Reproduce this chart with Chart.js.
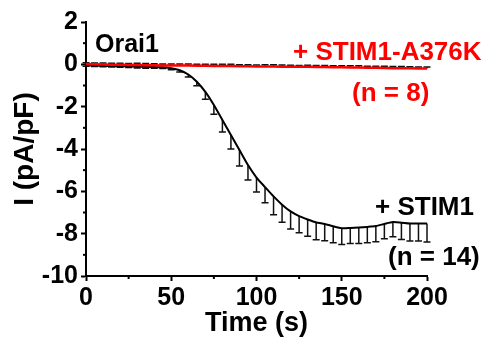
<!DOCTYPE html>
<html>
<head>
<meta charset="utf-8">
<script src="https://cdn.jsdelivr.net/npm/chart.js@4.4.0/dist/chart.umd.min.js"></script>
<style>
html, body { margin: 0; padding: 0; background: #fff; }
#wrap { width: 489px; height: 341px; position: relative; }
</style>
</head>
<body>
<div id="wrap"><canvas id="chart"></canvas></div>
<script>
/* ---- data ---- */
var TIME = [0,5,10,15,20,25,30,35,40,45,50,55,60,65,70,75,80,85,90,95,100,
            105,110,115,120,125,130,135,140,145,150,155,160,165,170,175,180,185,190,195,200];

var STIM1_MEAN = [-0.05,-0.06,-0.07,-0.08,-0.09,-0.10,-0.11,-0.12,-0.13,-0.14,
                  -0.18,-0.28,-0.48,-0.82,-1.30,-1.92,-2.63,-3.34,-4.05,-4.76,-5.35,
                  -5.80,-6.24,-6.63,-6.95,-7.17,-7.33,-7.47,-7.54,-7.65,-7.74,
                  -7.73,-7.71,-7.68,-7.64,-7.54,-7.45,-7.48,-7.52,-7.52,-7.52];
var STIM1_SEM  = [0.04,0.04,0.05,0.05,0.05,0.05,0.06,0.06,0.06,0.06,
                  0.07,0.08,0.12,0.19,0.35,0.44,0.57,0.66,0.75,0.71,0.68,
                  0.74,0.87,0.83,0.83,0.79,0.79,0.82,0.80,0.78,0.77,
                  0.73,0.75,0.75,0.74,0.70,0.70,0.79,0.83,0.83,0.87];

var A376K_MEAN = [0.01,0.00,-0.01,-0.02,-0.02,-0.03,-0.03,-0.04,-0.04,-0.05,
                  -0.05,-0.06,-0.06,-0.07,-0.07,-0.08,-0.08,-0.08,-0.09,-0.09,-0.10,
                  -0.10,-0.10,-0.11,-0.11,-0.12,-0.12,-0.13,-0.13,-0.14,-0.14,
                  -0.15,-0.15,-0.16,-0.16,-0.17,-0.18,-0.18,-0.19,-0.20,-0.20];
var A376K_SEM  = [0.06,0.06,0.07,0.07,0.07,0.07,0.08,0.08,0.07,0.07,
                  0.07,0.08,0.08,0.07,0.07,0.08,0.08,0.08,0.07,0.07,0.07,
                  0.08,0.08,0.08,0.07,0.07,0.08,0.08,0.08,0.07,0.07,
                  0.08,0.08,0.07,0.07,0.08,0.08,0.08,0.07,0.07,0.07];

var X_TICKS = [0, 50, 100, 150, 200];
var Y_TICKS = [2, 0, -2, -4, -6, -8, -10];
var X_MINOR = [25, 75, 125, 175];
var Y_MINOR = [1, -1, -3, -5, -7, -9];

var FONT = "'Liberation Sans', Arial, sans-serif";

function pts(xs, ys) {
    return xs.map(function(x, i) { return { x: x, y: ys[i] }; });
}

/* error bars: STIM1 downward, A376K upward, drawn under the lines */
var errorBars = {
    id: 'errorBars',
    beforeDatasetsDraw: function(chart) {
        var ctx = chart.ctx;
        var yS = chart.scales.y;
        ctx.save();
        ctx.strokeStyle = '#111';
        ctx.lineWidth = 1.5;
        chart.data.datasets.forEach(function(ds, di) {
            var meta = chart.getDatasetMeta(di);
            meta.data.forEach(function(p, i) {
                var v = ds.data[i].y + ds.errDir * ds.sem[i];
                var y1 = yS.getPixelForValue(v);
                ctx.beginPath();
                ctx.moveTo(p.x, p.y);
                ctx.lineTo(p.x, y1);
                ctx.moveTo(p.x - 3.5, y1);
                ctx.lineTo(p.x + 3.5, y1);
                ctx.stroke();
            });
        });
        ctx.restore();
    }
};

/* minor ticks + text labels */
var extras = {
    id: 'extras',
    afterDraw: function(chart) {
        var ctx = chart.ctx;
        var xS = chart.scales.x, yS = chart.scales.y;
        var a = chart.chartArea;
        ctx.save();
        ctx.strokeStyle = '#000';
        ctx.lineWidth = 2;
        X_MINOR.forEach(function(v) {
            var x = xS.getPixelForValue(v);
            ctx.beginPath(); ctx.moveTo(x, a.bottom); ctx.lineTo(x, a.bottom + 3); ctx.stroke();
        });
        Y_MINOR.forEach(function(v) {
            var y = yS.getPixelForValue(v);
            ctx.beginPath(); ctx.moveTo(a.left, y); ctx.lineTo(a.left - 3, y); ctx.stroke();
        });

        ctx.textBaseline = 'alphabetic';
        ctx.textAlign = 'left';
        ctx.fillStyle = '#000';
        ctx.font = 'bold 25px ' + FONT;
        ctx.fillText('Orai1', 95, 52);
        ctx.font = 'bold 26px ' + FONT;
        ctx.fillText('+ STIM1', 375, 215);
        ctx.fillText('(n = 14)', 388, 265);
        ctx.fillStyle = '#ff0000';
        ctx.fillText('+ STIM1-A376K', 293, 60);
        ctx.fillText('(n = 8)', 352, 101);
        ctx.restore();
    }
};

new Chart(document.getElementById('chart'), {
    type: 'line',
    data: {
        datasets: [
            {
                label: '+ STIM1-A376K',
                data: pts(TIME, A376K_MEAN),
                sem: A376K_SEM,
                errDir: 1,
                borderColor: '#ff0000',
                borderWidth: 2.5,
                pointRadius: 0,
                tension: 0
            },
            {
                label: '+ STIM1',
                data: pts(TIME, STIM1_MEAN),
                sem: STIM1_SEM,
                errDir: -1,
                borderColor: '#000000',
                borderWidth: 2,
                pointRadius: 0,
                tension: 0.2
            }
        ]
    },
    options: {
        responsive: true,
        maintainAspectRatio: false,
        animation: false,
        layout: { padding: { left: 0, top: 22, right: 62, bottom: 0 } },
        plugins: {
            legend: { display: false },
            tooltip: { enabled: false }
        },
        scales: {
            x: {
                type: 'linear',
                min: 0,
                max: 200,
                afterBuildTicks: function(s) { s.ticks = X_TICKS.map(function(v) { return { value: v }; }); },
                afterFit: function(s) { s.height = 65; },
                border: { display: true, color: '#000', width: 2 },
                grid: { drawOnChartArea: false, drawTicks: true, tickLength: 5, tickColor: '#000', tickWidth: 2 },
                ticks: { color: '#000', padding: 2, maxRotation: 0, font: { family: FONT, size: 25, weight: 'bold' } },
                title: {
                    display: true,
                    text: 'Time (s)',
                    color: '#000',
                    padding: { top: 0, bottom: 1 },
                    font: { family: FONT, size: 27, weight: 'bold' }
                }
            },
            y: {
                type: 'linear',
                min: -10,
                max: 2,
                afterBuildTicks: function(s) { s.ticks = Y_TICKS.map(function(v) { return { value: v }; }); },
                afterFit: function(s) { s.width = 86; },
                border: { display: true, color: '#000', width: 2 },
                grid: { drawOnChartArea: false, drawTicks: true, tickLength: 5, tickColor: '#000', tickWidth: 2 },
                ticks: { color: '#000', padding: 3, font: { family: FONT, size: 25, weight: 'bold' } },
                title: {
                    display: true,
                    text: 'I (pA/pF)',
                    color: '#000',
                    padding: { top: 8, bottom: 0 },
                    font: { family: FONT, size: 28, weight: 'bold' }
                }
            }
        }
    },
    plugins: [errorBars, extras]
});
</script>
</body>
</html>
